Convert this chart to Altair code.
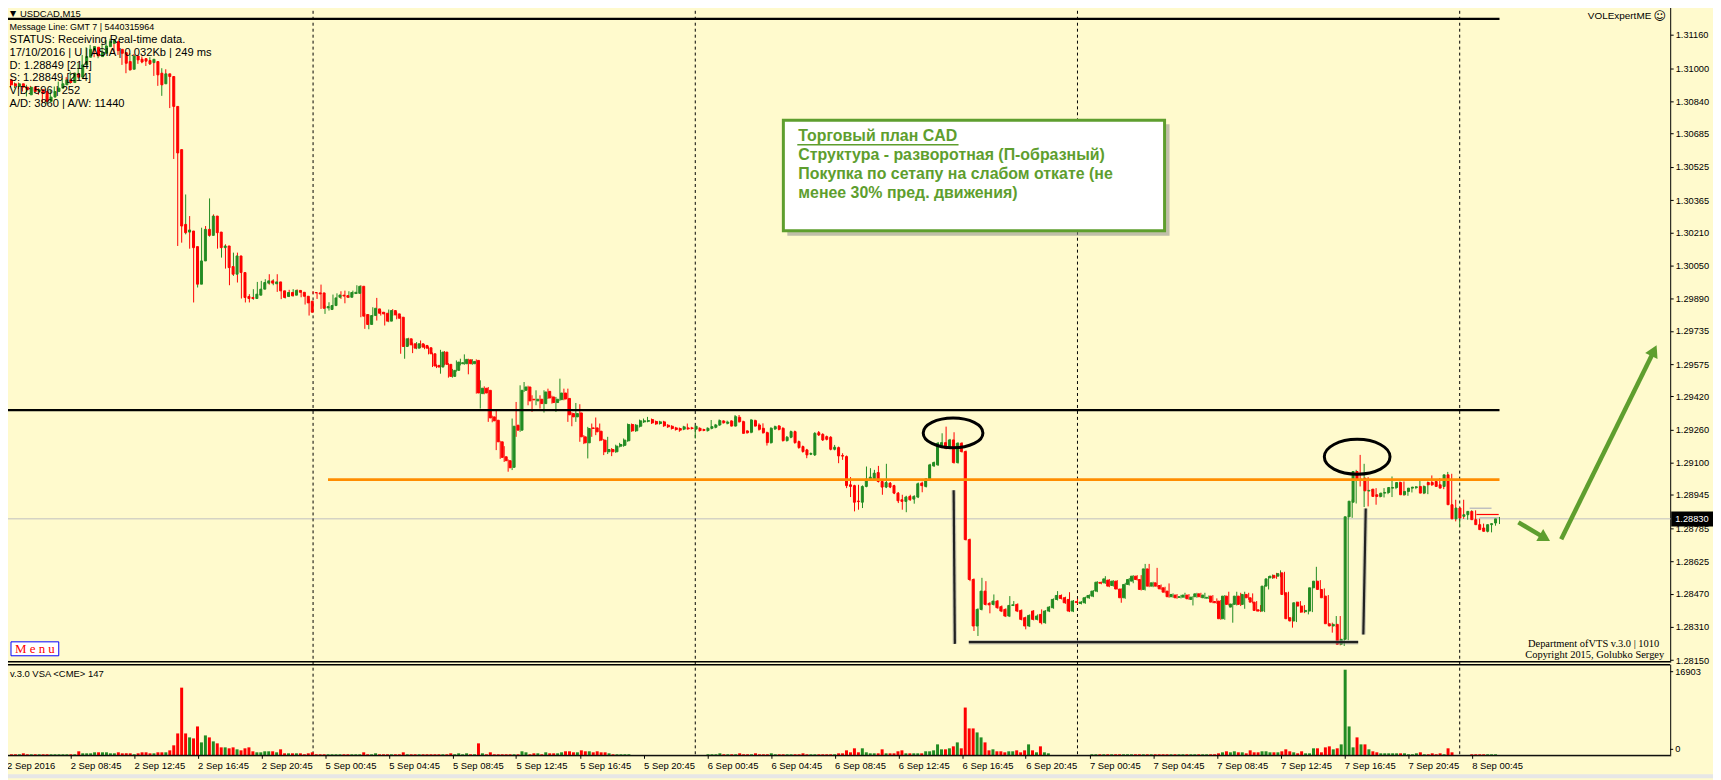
import json
import numpy as np
import pandas as pd
import altair as alt

# ---------------------------------------------------------------- data
# USDCAD M15 bars, 2 Sep 2016 04:45 .. 8 Sep 2016 02:30 (bar index g = 0..375)
# prices are given in points above 1.28000 (1 point = 0.00001)
BASE_PRICE = 1.28

OPEN = [
    # 2 Sep
    2944, 2925, 2912, 2925, 2909, 2872, 2909, 2888, 2896, 2888,
    2840, 2861, 2888, 2904, 2920, 2944, 2931, 2973, 2957, 3016,
    3053, 3088, 3101, 3056, 3072, 3104, 3120, 3128, 3091, 3075,
    3032, 2995, 3059, 3043, 3046, 3037, 3027, 3032, 2976, 2925,
    2973, 2960, 2816, 2608, 2248, 2211, 2216, 2141, 1960, 2072,
    2224, 2195, 2288, 2211, 2136, 2144, 2045, 2008, 2096, 2016,
    1901, 1896, 1891, 1907, 1936, 1965, 1976, 1962, 1971, 1928,
    1901, 1920, 1907, 1930, 1921, 1902, 1878,
    # 5 Sep
    1920, 1918, 1918, 1846, 1838, 1857, 1897, 1907, 1905, 1897,
    1915, 1916, 1950, 1814, 1766, 1809, 1841, 1825, 1820, 1782,
    1833, 1817, 1801, 1660, 1697, 1673, 1652, 1673, 1665, 1654,
    1625, 1569, 1561, 1633, 1574, 1516, 1545, 1577, 1577, 1596,
    1577, 1593, 1433, 1459, 1449, 1321, 1305, 1201, 1129, 1110,
    1078, 1281, 1257, 1449, 1465, 1406, 1398, 1406, 1385, 1444,
    1417, 1390, 1404, 1436, 1410, 1337, 1321, 1340, 1225, 1196,
    1268, 1268, 1252, 1209, 1153, 1164, 1153, 1180, 1184, 1206,
    1284, 1254, 1276, 1297, 1300, 1308, 1299, 1289, 1297, 1281,
    1276, 1268, 1265, 1262, 1268, 1268,
    # 6 Sep
    1262, 1266, 1260, 1255, 1266, 1271, 1282, 1301, 1290, 1301,
    1277, 1319, 1298, 1253, 1247, 1303, 1282, 1266, 1245, 1197,
    1263, 1277, 1266, 1207, 1223, 1250, 1202, 1178, 1162, 1141,
    1138, 1245, 1237, 1226, 1223, 1165, 1173, 1135, 1130, 994,
    990, 916, 910, 986, 1022, 1018, 1053, 1010, 983, 1002,
    990, 954, 922, 914, 938, 925, 935, 1002, 986, 1022,
    1085, 1090, 1178, 1197, 1170, 1210, 1101, 1194, 1154, 730,
    538, 314, 394, 482, 423, 418, 434, 407, 394, 362,
    413, 418, 389, 354, 314, 386, 346, 370, 330, 386,
    402, 442, 461, 450, 442, 386,
    # 7 Sep
    431, 423, 426, 450, 458, 482, 524, 522, 535, 509,
    530, 492, 450, 514, 530, 554, 538, 490, 589, 506,
    522, 509, 498, 482, 455, 463, 452, 453, 463, 442,
    455, 469, 450, 448, 458, 432, 434, 349, 458, 405,
    418, 458, 418, 466, 450, 429, 392, 386, 506, 546,
    558, 554, 570, 474, 354, 338, 429, 410, 383, 386,
    498, 530, 490, 458, 325, 314, 322, 226, 250, 840,
    910, 1058, 1018, 1026, 964, 973, 946, 938, 954, 957,
    978, 981, 1005, 946, 962, 978, 981, 986, 954, 1005,
    1005, 1010, 994, 986, 1042, 898,
    # 8 Sep
    830, 882, 842, 850, 866, 826, 802, 786, 770, 802, 810,
]

HIGH = [
    2952, 2931, 2931, 2931, 2915, 2920, 2915, 2904, 2904, 2896,
    2867, 2896, 2912, 2936, 2952, 2957, 2984, 2979, 3024, 3064,
    3101, 3112, 3107, 3088, 3117, 3136, 3142, 3136, 3128, 3080,
    3040, 3072, 3069, 3056, 3056, 3046, 3053, 3040, 2984, 3000,
    2995, 2968, 2824, 2752, 2272, 2392, 2288, 2152, 2080, 2232,
    2240, 2373, 2296, 2221, 2152, 2152, 2051, 2112, 2112, 2024,
    1960, 1912, 1936, 1971, 1976, 1984, 2008, 1984, 2008, 1936,
    1928, 1933, 1936, 1935, 1929, 1908, 1889,
    1926, 1918, 1958, 1857, 1873, 1910, 1916, 1926, 1929, 1926,
    1929, 1955, 1955, 1820, 1814, 1849, 1894, 1833, 1825, 1838,
    1840, 1825, 1807, 1702, 1702, 1679, 1681, 1689, 1670, 1660,
    1631, 1574, 1644, 1638, 1580, 1552, 1593, 1601, 1622, 1601,
    1599, 1598, 1497, 1468, 1465, 1327, 1353, 1206, 1180, 1116,
    1313, 1393, 1473, 1489, 1471, 1425, 1449, 1425, 1449, 1457,
    1423, 1417, 1505, 1457, 1457, 1343, 1388, 1382, 1233, 1273,
    1289, 1318, 1289, 1215, 1225, 1171, 1187, 1196, 1217, 1289,
    1289, 1286, 1308, 1313, 1321, 1313, 1303, 1302, 1302, 1286,
    1281, 1273, 1270, 1278, 1289, 1273,
    1281, 1271, 1264, 1271, 1306, 1287, 1309, 1306, 1303, 1306,
    1330, 1330, 1303, 1258, 1311, 1308, 1290, 1290, 1250, 1271,
    1279, 1282, 1271, 1229, 1255, 1255, 1207, 1183, 1167, 1149,
    1247, 1253, 1242, 1231, 1228, 1186, 1178, 1146, 1135, 1031,
    994, 994, 991, 1082, 1074, 1066, 1085, 1015, 1095, 1007,
    994, 959, 946, 941, 946, 944, 1005, 1009, 1026, 1095,
    1106, 1200, 1242, 1274, 1215, 1247, 1199, 1199, 1159, 735,
    543, 399, 546, 530, 429, 466, 439, 413, 399, 458,
    434, 423, 394, 359, 370, 391, 370, 394, 391, 410,
    447, 482, 466, 455, 477, 439,
    445, 434, 455, 466, 487, 530, 528, 554, 540, 535,
    535, 495, 522, 545, 559, 559, 559, 613, 613, 527,
    594, 514, 503, 519, 471, 468, 464, 474, 468, 458,
    474, 474, 474, 461, 463, 447, 439, 463, 479, 423,
    479, 474, 479, 474, 471, 434, 415, 511, 554, 562,
    570, 582, 575, 479, 359, 431, 434, 415, 394, 503,
    599, 535, 495, 463, 330, 362, 362, 255, 846, 923,
    1066, 1138, 1095, 1031, 973, 978, 951, 978, 962, 1034,
    986, 1010, 1010, 967, 983, 988, 1013, 991, 1010, 1039,
    1010, 1026, 999, 1056, 1047, 922,
    887, 922, 858, 871, 871, 831, 807, 791, 807, 813, 839,
]

LOW = [
    2904, 2909, 2904, 2899, 2888, 2864, 2880, 2880, 2872, 2832,
    2829, 2851, 2880, 2896, 2915, 2925, 2925, 2947, 2950, 3011,
    3046, 3080, 3053, 3048, 3066, 3094, 3110, 3075, 3064, 3016,
    2976, 2989, 3027, 3021, 3024, 3011, 3016, 2963, 2915, 2867,
    2947, 2808, 2563, 2144, 2160, 2200, 2131, 1872, 1944, 2061,
    2189, 2189, 2200, 2131, 2088, 2035, 1955, 2000, 1968, 1891,
    1872, 1872, 1885, 1901, 1928, 1955, 1958, 1955, 1923, 1888,
    1891, 1898, 1901, 1915, 1897, 1862, 1809,
    1913, 1889, 1841, 1817, 1833, 1854, 1894, 1889, 1868, 1894,
    1910, 1913, 1801, 1745, 1743, 1804, 1785, 1809, 1761, 1777,
    1807, 1791, 1625, 1601, 1663, 1628, 1647, 1652, 1647, 1622,
    1561, 1556, 1529, 1569, 1510, 1510, 1539, 1569, 1572, 1526,
    1572, 1433, 1361, 1430, 1297, 1295, 1161, 1119, 1104, 1057,
    1065, 1225, 1249, 1441, 1377, 1345, 1377, 1361, 1342, 1407,
    1385, 1345, 1398, 1401, 1297, 1276, 1297, 1201, 1190, 1121,
    1225, 1233, 1204, 1137, 1142, 1132, 1148, 1174, 1177, 1201,
    1249, 1249, 1270, 1292, 1295, 1287, 1283, 1284, 1273, 1268,
    1260, 1255, 1249, 1257, 1259, 1260,
    1217, 1250, 1252, 1250, 1261, 1266, 1277, 1288, 1285, 1274,
    1274, 1293, 1239, 1240, 1242, 1274, 1255, 1240, 1183, 1192,
    1258, 1256, 1202, 1202, 1218, 1192, 1168, 1149, 1122, 1137,
    1133, 1229, 1205, 1208, 1160, 1160, 1098, 1114, 978, 935,
    866, 874, 882, 982, 1017, 1013, 1005, 946, 978, 978,
    949, 906, 874, 862, 917, 903, 930, 958, 981, 1017,
    1080, 1085, 1173, 1165, 1165, 1096, 1096, 1149, 726, 530,
    290, 266, 389, 413, 375, 413, 397, 381, 357, 357,
    410, 381, 341, 298, 309, 341, 341, 322, 325, 381,
    397, 437, 442, 421, 381, 381,
    418, 418, 421, 445, 453, 477, 515, 517, 501, 504,
    490, 426, 445, 509, 520, 533, 485, 485, 501, 501,
    501, 488, 472, 450, 450, 445, 447, 448, 440, 413,
    450, 450, 445, 444, 424, 421, 344, 344, 413, 330,
    413, 410, 397, 440, 423, 384, 381, 381, 490, 541,
    541, 549, 461, 344, 306, 333, 378, 376, 370, 381,
    493, 485, 445, 320, 282, 309, 221, 218, 245, 835,
    904, 986, 887, 890, 959, 898, 933, 933, 949, 935,
    973, 976, 941, 941, 957, 973, 976, 949, 949, 989,
    989, 981, 973, 981, 893, 818,
    791, 830, 826, 845, 821, 797, 773, 765, 765, 797, 805,
]

CLOSE = [
    2920, 2915, 2925, 2909, 2896, 2909, 2888, 2896, 2880, 2840,
    2861, 2888, 2904, 2925, 2944, 2931, 2976, 2957, 3016, 3056,
    3091, 3104, 3059, 3075, 3107, 3128, 3133, 3085, 3072, 3024,
    2992, 3059, 3040, 3030, 3034, 3021, 3043, 2968, 2920, 2973,
    2960, 2816, 2592, 2240, 2208, 2221, 2136, 1960, 2072, 2224,
    2195, 2288, 2208, 2136, 2144, 2040, 2008, 2096, 2016, 1896,
    1891, 1891, 1912, 1936, 1968, 1976, 1965, 1971, 1928, 1896,
    1920, 1904, 1930, 1921, 1902, 1870, 1825,
    1918, 1913, 1844, 1852, 1857, 1894, 1908, 1903, 1897, 1920,
    1921, 1950, 1806, 1766, 1809, 1844, 1820, 1817, 1782, 1833,
    1812, 1796, 1660, 1697, 1668, 1652, 1673, 1657, 1652, 1625,
    1566, 1561, 1633, 1574, 1516, 1545, 1585, 1582, 1598, 1577,
    1588, 1436, 1459, 1436, 1316, 1302, 1201, 1126, 1110, 1076,
    1276, 1257, 1449, 1465, 1398, 1403, 1406, 1385, 1441, 1412,
    1390, 1406, 1436, 1407, 1331, 1321, 1337, 1225, 1196, 1265,
    1265, 1249, 1209, 1153, 1164, 1153, 1180, 1188, 1209, 1284,
    1254, 1281, 1302, 1302, 1303, 1292, 1287, 1297, 1278, 1273,
    1265, 1260, 1257, 1273, 1263, 1265,
    1276, 1255, 1256, 1266, 1274, 1282, 1303, 1293, 1296, 1277,
    1322, 1298, 1242, 1245, 1306, 1277, 1261, 1245, 1197, 1266,
    1274, 1261, 1207, 1223, 1250, 1197, 1173, 1154, 1138, 1145,
    1242, 1234, 1210, 1213, 1165, 1175, 1133, 1132, 990, 986,
    910, 913, 986, 1022, 1031, 1050, 1010, 983, 1005, 983,
    954, 917, 914, 935, 922, 938, 999, 990, 1022, 1090,
    1101, 1194, 1197, 1170, 1210, 1101, 1194, 1154, 730, 538,
    314, 394, 482, 418, 416, 434, 402, 386, 362, 413,
    416, 386, 346, 314, 365, 346, 362, 330, 386, 405,
    442, 461, 447, 426, 386, 434,
    428, 429, 450, 461, 482, 525, 520, 541, 506, 530,
    492, 450, 514, 538, 554, 538, 490, 589, 506, 522,
    506, 493, 477, 455, 466, 450, 455, 463, 445, 453,
    469, 455, 463, 452, 429, 426, 349, 458, 418, 420,
    458, 418, 466, 450, 429, 389, 386, 506, 541, 554,
    546, 566, 466, 349, 338, 426, 410, 381, 389, 498,
    530, 490, 450, 325, 314, 322, 226, 250, 840, 915,
    1058, 1018, 1021, 965, 967, 938, 938, 954, 957, 981,
    981, 1005, 946, 962, 978, 983, 984, 954, 986, 994,
    994, 986, 978, 1042, 898, 830,
    882, 834, 850, 866, 826, 802, 778, 770, 802, 807, 830,
]

VOLUME = [
    # 2 Sep
    200, 200, 200, 390, 200, 200, 200, 200, 200, 200, 200, 200, 200, 200, 200, 200, 200,
    790, 390, 390, 390, 590, 590, 590, 590, 390, 390, 590, 390, 390, 390, 200, 390, 590,
    590, 390, 390, 590, 590, 590,
    980, 1970, 4320, 13360, 4320, 3540, 3340, 5700, 2550, 3930, 3540, 2750, 2360, 1570,
    1570, 1380, 1570, 1180, 980, 1380, 1570, 790, 590, 590, 790, 790, 790, 590, 1180,
    390, 390, 390, 390, 390, 200, 390, 590,
    # 5 Sep
    200, 200, 200, 200, 200, 200, 200, 200, 200, 200, 200, 200, 590,
    200, 200, 390, 200, 200, 200, 200, 200, 200, 590,
    200, 200, 200, 200, 200, 200, 200, 200, 200, 200, 200, 390, 200, 390, 200, 390, 200, 200,
    2360,
    390, 200, 590, 200, 200, 200, 200, 200, 200, 200, 790, 590, 200, 390, 390, 200, 590,
    390, 390, 390, 590, 790, 790, 590, 590, 980, 790, 790, 590, 790,
    590, 590, 390, 200, 200, 200, 200, 200,
    0, 0, 0, 0, 0, 0, 0, 0, 0, 0, 0, 0, 0, 0, 0, 0,
    # 6 Sep
    0, 0, 0,
    200, 200, 200, 390, 200, 200, 200, 200, 390, 200, 200, 200, 390, 200, 200, 200, 390,
    200, 200, 200, 200, 200, 200, 200, 390, 200, 200, 200, 200, 200, 200, 200, 200,
    390, 390, 980, 590, 1380, 590, 1380, 590, 390, 390, 390, 1180, 390, 390, 390, 790,
    980, 390, 390, 390, 390, 390,
    790, 790, 980, 2160, 1180, 1180, 1380, 1770, 2550, 1380, 9430,
    5310, 5310, 4520, 3540, 2550, 980, 1180, 790, 790, 590, 790, 790, 980, 590, 980,
    2160, 980, 590, 1770, 590, 390,
    0, 0, 0, 0, 0, 0,
    # 7 Sep
    0, 0, 0, 0,
    200, 200, 200, 200, 200, 200, 200, 200, 200, 200, 200, 200, 200, 200, 200, 200,
    200, 200, 200, 200, 200, 200, 200, 200, 200, 200, 200, 200, 200, 200, 200, 200,
    390, 590, 790, 590, 790, 590, 590, 390, 980, 590, 590, 790, 790, 590, 590, 590,
    790, 1180, 790, 590, 390, 790, 390, 390, 1380, 1380, 590, 1570, 1770, 1180, 1380,
    2160, 16903, 5700, 1570, 3540, 2160, 2160, 1180, 790, 590,
    390, 390, 390, 390, 390, 390, 390, 200, 200, 390, 590, 200, 200, 390, 200, 390,
    200, 1380, 590,
    # 8 Sep
    0, 0, 0, 0, 200, 200, 200, 200, 200, 200, 200,
]

TIME_LABELS = [
    "2 Sep 2016", "2 Sep 08:45", "2 Sep 12:45", "2 Sep 16:45", "2 Sep 20:45",
    "5 Sep 00:45", "5 Sep 04:45", "5 Sep 08:45", "5 Sep 12:45", "5 Sep 16:45",
    "5 Sep 20:45", "6 Sep 00:45", "6 Sep 04:45", "6 Sep 08:45", "6 Sep 12:45",
    "6 Sep 16:45", "6 Sep 20:45", "7 Sep 00:45", "7 Sep 04:45", "7 Sep 08:45",
    "7 Sep 12:45", "7 Sep 16:45", "7 Sep 20:45", "8 Sep 00:45",
]
TIME_TICKS = [16 * i for i in range(len(TIME_LABELS))]
DAY_STARTS = [77, 173, 269, 365]

PRICE_TICKS = [1.31160, 1.31000, 1.30840, 1.30685, 1.30525, 1.30365, 1.30210,
               1.30050, 1.29890, 1.29735, 1.29575, 1.29420, 1.29260, 1.29100,
               1.28945, 1.28785, 1.28625, 1.28470, 1.28310, 1.28150]
LAST_PRICE = 1.28830
VOL_MAX = 16903

INFO_LINES = [
    "Message Line: GMT 7 | 5440315964",
    "STATUS:  Receiving Real-time data.",
    "17/10/2016 | U | ASIA | 0.032Kb | 249 ms",
    "D: 1.28849  [214]",
    "S: 1.28849  [214]",
    "V|D: 596 | 252",
    "A/D: 3860 | A/W: 11440",
]
NOTE_LINES = [
    "Торговый план CAD",
    "Структура - разворотная (П-образный)",
    "Покупка по сетапу на слабом откате (не",
    "менее 30% пред. движения)",
]

# ---------------------------------------------------------------- styling
BG = "#FFFACD"
GREEN = "#228B22"
RED = "#FF0000"
NOTE_GREEN = "#5E9E2E"
FONT = "Liberation Sans"
SERIF = "Liberation Serif"
W, H = 1721, 780

XS = alt.Scale(domain=[0, 418], range=[6.5, 1678.5], nice=False, zero=False)
YS = alt.Scale(domain=[1.2814, 1.3130], range=[663.4, 4.1], nice=False, zero=False)
VS = alt.Scale(domain=[0, VOL_MAX], range=[757, 671], nice=False)

n = len(CLOSE)
bars = pd.DataFrame({
    "g": np.arange(n),
    "op": [BASE_PRICE + v / 1e5 for v in OPEN],
    "hi": [BASE_PRICE + v / 1e5 for v in HIGH],
    "lo": [BASE_PRICE + v / 1e5 for v in LOW],
    "cl": [BASE_PRICE + v / 1e5 for v in CLOSE],
    "vol": VOLUME,
})
bars["col"] = np.where(bars["cl"] >= bars["op"], GREEN, RED)


def px_rules(rows):
    d = pd.DataFrame(rows, columns=["x", "x2", "y", "y2", "color", "w"])
    return alt.Chart(d).mark_rule().encode(
        x=alt.X("x:Q", scale=None, axis=None), x2="x2:Q",
        y=alt.Y("y:Q", scale=None, axis=None), y2="y2:Q",
        color=alt.Color("color:N", scale=None, legend=None),
        strokeWidth=alt.StrokeWidth("w:Q", scale=None, legend=None))


def px_rect(rows, **kw):
    d = pd.DataFrame(rows, columns=["x", "x2", "y", "y2"])
    return alt.Chart(d).mark_rect(**kw).encode(
        x=alt.X("x:Q", scale=None, axis=None), x2="x2:Q",
        y=alt.Y("y:Q", scale=None, axis=None), y2="y2:Q")


def px_text(rows, font=FONT, weight="normal", align="left", baseline="middle"):
    d = pd.DataFrame(rows, columns=["x", "y", "text", "size", "color"])
    return alt.Chart(d).mark_text(font=font, fontWeight=weight, align=align,
                                  baseline=baseline).encode(
        x=alt.X("x:Q", scale=None, axis=None),
        y=alt.Y("y:Q", scale=None, axis=None),
        text="text:N",
        size=alt.Size("size:Q", scale=None, legend=None),
        color=alt.Color("color:N", scale=None, legend=None))


def price_lines(rows, dash=None):
    d = pd.DataFrame(rows, columns=["g0", "g1", "p", "color", "w"])
    kw = {} if dash is None else {"strokeDash": dash}
    return alt.Chart(d).mark_rule(**kw).encode(
        x=alt.X("g0:Q", scale=XS, axis=None), x2="g1:Q",
        y=alt.Y("p:Q", scale=YS, axis=None),
        color=alt.Color("color:N", scale=None, legend=None),
        strokeWidth=alt.StrokeWidth("w:Q", scale=None, legend=None))


def seg_lines(rows, **kw):
    d = pd.DataFrame(rows, columns=["g0", "g1", "p0", "p1"])
    return alt.Chart(d).mark_rule(**kw).encode(
        x=alt.X("g0:Q", scale=XS, axis=None), x2="g1:Q",
        y=alt.Y("p0:Q", scale=YS, axis=None), y2="p1:Q")


layers = []

# bottom window strip
layers.append(px_rect([(0, W, 776, H)], color="#E6E6E6"))

# current bid line + small level marks
layers.append(price_lines([(-1, 418, LAST_PRICE, "#C0C0C0", 1),
                           (367.5, 373, 1.28881, "#C0C0C0", 1.5),
                           (370, 375, 1.28835, "#C0C0C0", 1.5)]))

# day separators
sep = pd.DataFrame({"g": DAY_STARTS})
layers.append(alt.Chart(sep).mark_rule(color="black", strokeWidth=1,
                                       strokeDash=[3, 3]).encode(
    x=alt.X("g:Q", scale=XS, axis=None), y=alt.value(3), y2=alt.value(757)))

# volume (VSA) bars
layers.append(alt.Chart(bars).mark_bar(size=3).encode(
    x=alt.X("g:Q", scale=XS, axis=None),
    y=alt.Y("vol:Q", scale=VS, axis=None),
    color=alt.Color("col:N", scale=None, legend=None)))

# candle wicks (carry the price and time axes)
price_axis = alt.Axis(orient="right", offset=-43, values=PRICE_TICKS, format=".5f",
                      grid=False, domainColor="black", tickColor="black", tickSize=3,
                      labelFont=FONT, labelFontSize=9.3, labelColor="black",
                      labelPadding=2, labelOverlap=False, labelFlush=False,
                      labelBound=False, title="")
time_axis = alt.Axis(orient="bottom", offset=-23, values=TIME_TICKS,
                     labelExpr=json.dumps(TIME_LABELS) + "[round(datum.value / 16)]",
                     labelAlign="left", labelBaseline="top", labelPadding=2,
                     labelFont=FONT, labelFontSize=9.5, labelColor="black",
                     tickColor="black", tickSize=3, domainColor="black", grid=False,
                     labelOverlap=False, labelFlush=False, labelBound=False, title="")
layers.append(alt.Chart(bars).mark_rule(strokeWidth=1).encode(
    x=alt.X("g:Q", scale=XS, axis=time_axis),
    y=alt.Y("lo:Q", scale=YS, axis=price_axis), y2="hi:Q",
    color=alt.Color("col:N", scale=None, legend=None)))

# candle bodies
layers.append(alt.Chart(bars).mark_bar(size=2, strokeWidth=1).encode(
    x=alt.X("g:Q", scale=XS, axis=None),
    y=alt.Y("op:Q", scale=YS, axis=None), y2="cl:Q",
    color=alt.Color("col:N", scale=None, legend=None),
    stroke=alt.Stroke("col:N", scale=None, legend=None)))

# horizontal levels drawn on the chart
layers.append(price_lines([(0, 375, 1.31238, "#000000", 2.2),
                           (0, 375, 1.29354, "#000000", 2.2),
                           (80.75, 375, 1.29019, "#FF8C00", 2.6),
                           (369.2, 374.8, 1.28851, "#FF0000", 1.2)]))

# window frame
layers.append(px_rules([
    (4, 4, 3, 757, "#000000", 1),
    (3, 1678, 663, 663, "#000000", 1.5),
    (3, 1678, 666, 666, "#000000", 1.5),
    (1678.5, 1678.5, 666, 757, "#000000", 1),
    (3, 1678, 757, 757, "#000000", 1),
    (1678, 1681, 673, 673, "#000000", 1),
    (1678, 1681, 751, 751, "#000000", 1),
]))

# hand-drawn marker lines
hand = [(237.9, 238.2, 1.28968, 1.28228),
        (241.7, 339.5, 1.28236, 1.28236),
        (341.4, 340.8, 1.28880, 1.28273)]
layers.append(seg_lines(hand, color="#9a9a9a", strokeWidth=4.5, opacity=0.5))
layers.append(seg_lines(hand, color="#202020", strokeWidth=2.2))

# ellipses round the two tops
ell = pd.DataFrame({"g": [237.75], "p": [1.29244]})
layers.append(alt.Chart(ell).mark_point(
    shape="M -1 0 A 1 0.5 0 1 0 1 0 A 1 0.5 0 1 0 -1 0 Z", size=3600,
    filled=False, strokeWidth=3, color="black", opacity=1).encode(
    x=alt.X("g:Q", scale=XS, axis=None), y=alt.Y("p:Q", scale=YS, axis=None)))
ell2 = pd.DataFrame({"g": [339.25], "p": [1.29129]})
layers.append(alt.Chart(ell2).mark_point(
    shape="M -1 0 A 1 0.53 0 1 0 1 0 A 1 0.53 0 1 0 -1 0 Z", size=4356,
    filled=False, strokeWidth=3, color="black", opacity=1).encode(
    x=alt.X("g:Q", scale=XS, axis=None), y=alt.Y("p:Q", scale=YS, axis=None)))

# green arrows
layers.append(seg_lines([(379.75, 385.9, 1.28813, 1.28743),
                         (390.5, 413.6, 1.28732, 1.29631)],
                        color=NOTE_GREEN, strokeWidth=4.5))
heads = pd.DataFrame({"g": [386.4, 413.8], "p": [1.28738, 1.29640], "a": [30, 296]})
layers.append(alt.Chart(heads).mark_point(shape="triangle-right", filled=True,
                                          size=190, color=NOTE_GREEN, opacity=1).encode(
    x=alt.X("g:Q", scale=XS, axis=None), y=alt.Y("p:Q", scale=YS, axis=None),
    angle=alt.Angle("a:Q", scale=None)))

# note box
layers.append(px_rect([(791, 1175, 123, 235)], color="#8c8c8c", opacity=0.55))
layers.append(px_rect([(787, 1170, 119, 230)], fill="#FFFFFF", stroke=NOTE_GREEN,
                      strokeWidth=3))
layers.append(px_text([(802, 140 + i * 19, t, 16, NOTE_GREEN)
                       for i, t in enumerate(NOTE_LINES)],
                      weight="bold", baseline="alphabetic"))
layers.append(px_rules([(801, 963, 143.5, 143.5, NOTE_GREEN, 1.5)]))

# header and info texts
layers.append(px_text([(13, 12.5, "▼", 8, "#000000")], font="DejaVu Sans",
                      align="center"))
layers.append(px_text([(20, 12.5, "USDCAD,M15", 9.5, "#000000")]))
info_y = [25, 38, 51.5, 64.5, 77, 90, 103]
layers.append(px_text([(9.5, info_y[i], t, 9 if i == 0 else 11.2, "#000000")
                       for i, t in enumerate(INFO_LINES)]))
layers.append(px_text([(1659, 14.5, "VOLExpertME", 10, "#000000")], align="right"))
layers.append(px_text([(1667.5, 14.5, "☺", 12, "#000000")], font="DejaVu Sans",
                      align="center"))
layers.append(px_text([(10, 675, "v.3.0 VSA <CME> 147", 9.5, "#000000")]))

# Menu button
layers.append(px_rect([(11, 59, 643, 657)], fill="#FFFFFF", stroke="#0000FF",
                      strokeWidth=1))
layers.append(px_text([(35, 650.5, "M e n u", 13, "#FF0000")], font=SERIF,
                      align="center"))

# copyright block
layers.append(px_text([(1667, 645, "Department ofVTS  v.3.0 | 1010", 10.5, "#000000"),
                       (1672, 656.5, "Copyright 2015, Golubko Sergey", 10.5, "#000000")],
                      font=SERIF, align="right"))

# volume axis labels
layers.append(px_text([(1683, 673, f"{VOL_MAX}", 9.3, "#000000"),
                       (1683, 751, "0", 9.3, "#000000")]))

# last price tag
layers.append(px_rect([(1679, W, 512, 527)], color="#000000"))
layers.append(px_text([(1683, 519.5, f"{LAST_PRICE:.5f}", 9.3, "#FFFFFF")]))

chart = alt.layer(*layers).resolve_scale(
    x="independent", y="independent"
).properties(
    width=W, height=H,
    autosize=alt.AutoSizeParams(type="none"),
    padding={"left": -8, "top": -8, "right": 0, "bottom": 0},
    background=BG,
).configure_view(stroke=None)

chart.save("out.html", embed_options={"renderer": "svg", "actions": False})
